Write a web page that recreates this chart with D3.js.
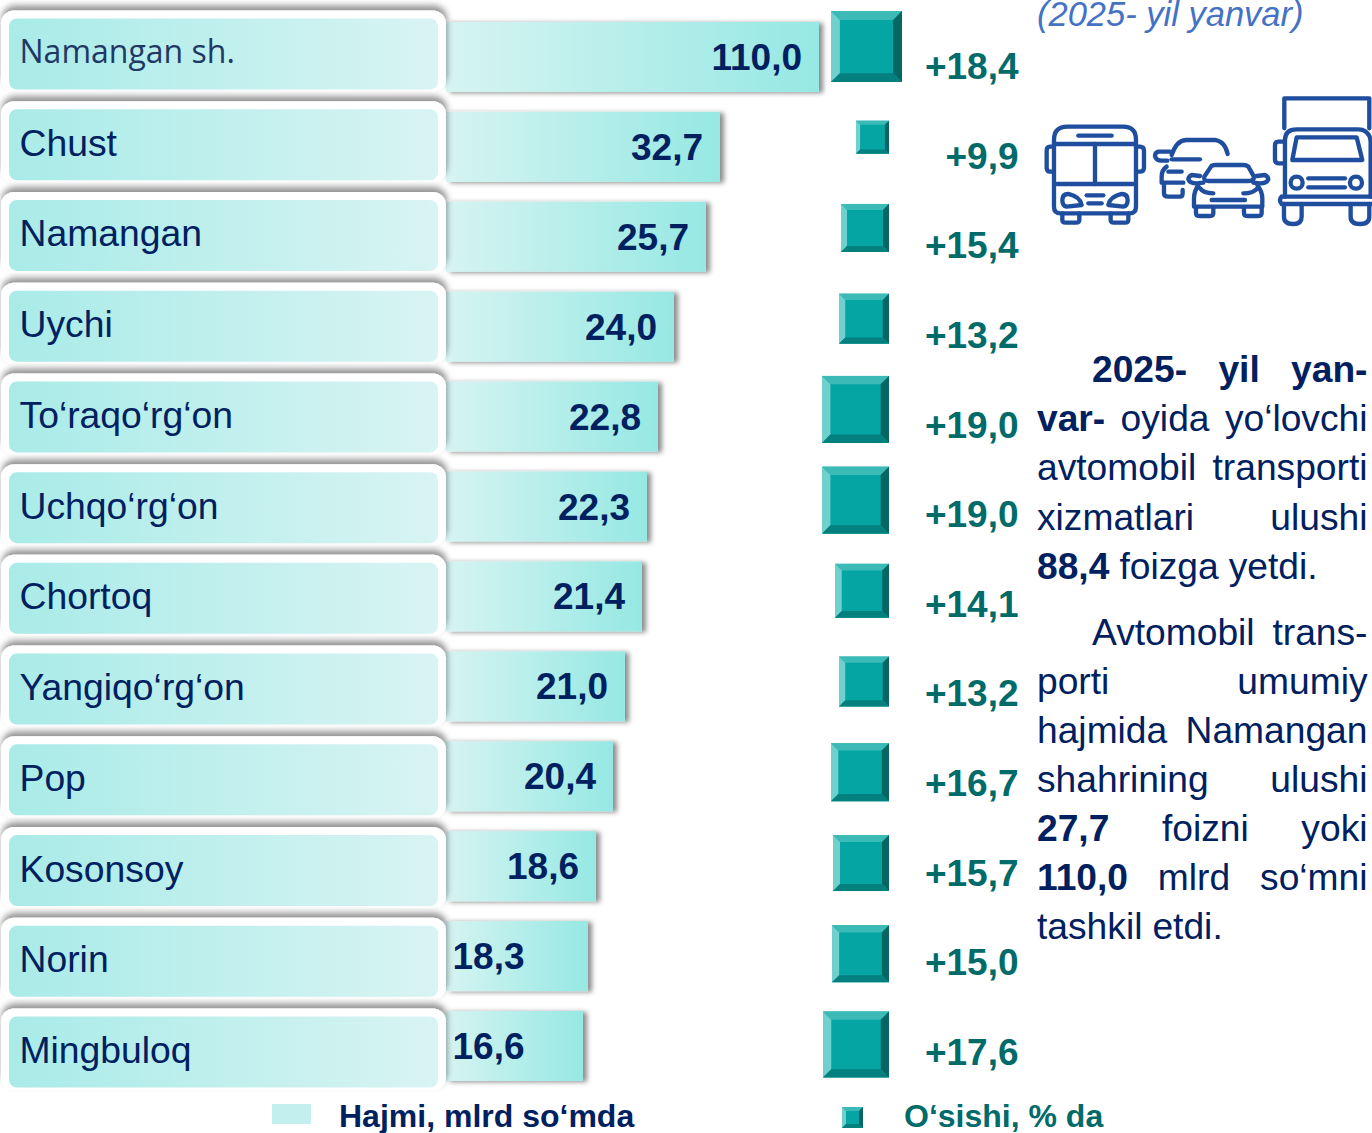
<!DOCTYPE html>
<html>
<head>
<meta charset="utf-8">
<script src="https://cdn.jsdelivr.net/npm/d3@7"></script>
<style>
html, body { margin: 0; padding: 0; background: #fff; }
svg { display: block; font-family: "Liberation Sans", Arial, sans-serif; }
</style>
</head>
<body>
<svg id="chart" width="1372" height="1133"></svg>
<script>
var districts = ['Namangan sh.', 'Chust', 'Namangan', 'Uychi', 'To‘raqo‘rg‘on', 'Uchqo‘rg‘on', 'Chortoq', 'Yangiqo‘rg‘on', 'Pop', 'Kosonsoy', 'Norin', 'Mingbuloq'];
var volume = [110.0, 32.7, 25.7, 24.0, 22.8, 22.3, 21.4, 21.0, 20.4, 18.6, 18.3, 16.6];
var growth = [18.4, 9.9, 15.4, 13.2, 19.0, 19.0, 14.1, 13.2, 16.7, 15.7, 15.0, 17.6];
var legendLabels = ['Hajmi, mlrd so‘mda', 'O‘sishi, % da'];
var titleText = '(2025- yil yanvar)';

var commaFormat = d3.formatLocale({decimal: ',', thousands: ' ', grouping: [3], currency: ['', '']}).format('.1f');

// bars and squares in the picture are not to a straight scale, so the scales are piecewise
var barX = d3.scaleLinear()
    .domain([16.6, 18.3, 18.6, 20.4, 21.0, 21.4, 22.3, 22.8, 24.0, 25.7, 32.7, 110.0])
    .range([583, 588, 596, 613, 625, 642, 647, 658, 674, 706, 720, 819]);
var squareSize = d3.scaleLinear()
    .domain([9.9, 13.2, 14.1, 15.0, 15.4, 15.7, 16.7, 17.6, 18.4, 19.0])
    .range([33, 50, 54, 57, 48, 56, 58, 66, 71, 67]);

var rowY = d3.scalePoint().domain(districts).range([53.5, 1051.5]);
var barY = d3.scalePoint().domain(districts).range([57, 1046]);
var growthY = d3.scalePoint().domain(districts).range([66, 1052]);

var svg = d3.select('#chart');
var defs = svg.append('defs');

function addGradient(id, from, to) {
    var g = defs.append('linearGradient').attr('id', id);
    g.append('stop').attr('offset', '0').attr('stop-color', from);
    g.append('stop').attr('offset', '1').attr('stop-color', to);
}
addGradient('barFill', '#d6f4f2', '#96e8e3');
addGradient('labelFill', '#a9ebe8', '#d8f4f3');

function addShadow(id, dx, dy, blur, opacity) {
    defs.append('filter').attr('id', id)
        .attr('x', '-10%').attr('y', '-30%').attr('width', '120%').attr('height', '160%')
        .append('feDropShadow')
        .attr('dx', dx).attr('dy', dy).attr('stdDeviation', blur)
        .attr('flood-color', '#000').attr('flood-opacity', opacity);
}
addShadow('barShadow', 4, 1, 2.8, 0.45);
addShadow('boxShadow', 1, -5, 3, 0.42);

// bars
var barStart = 446;
var barHeight = 70;
svg.append('g').selectAll('rect')
    .data(districts)
    .join('rect')
    .attr('x', barStart)
    .attr('y', function (d) { return barY(d) - barHeight / 2; })
    .attr('width', function (d, i) { return barX(volume[i]) - barStart; })
    .attr('height', barHeight)
    .attr('fill', 'url(#barFill)')
    .attr('filter', 'url(#barShadow)');

// white framed name boxes sit on top of the bars
var boxes = svg.append('g').selectAll('g')
    .data(districts)
    .join('g');
boxes.append('rect')
    .attr('x', 1).attr('width', 445)
    .attr('y', function (d) { return rowY(d) - 43; })
    .attr('height', 82).attr('rx', 13)
    .attr('fill', '#fff')
    .attr('filter', 'url(#boxShadow)');
boxes.append('rect')
    .attr('x', 9).attr('width', 429)
    .attr('y', function (d) { return rowY(d) - 35; })
    .attr('height', 71).attr('rx', 8)
    .attr('fill', 'url(#labelFill)');
boxes.append('text')
    .attr('x', 19.5)
    .attr('y', function (d, i) { return rowY(d) + (i == 0 ? 9 : 11.5); })
    .attr('font-family', function (d, i) { return i == 0 ? '"Open Sans"' : null; })
    .attr('font-size', function (d, i) { return i == 0 ? 32 : 37.3; })
    .attr('fill', function (d, i) { return i == 0 ? '#1f3864' : '#002060'; })
    .text(function (d) { return d; });

// value labels, the two shortest bars have them at the left
svg.append('g').selectAll('text')
    .data(districts)
    .join('text')
    .attr('x', function (d, i) { return volume[i] < 18.5 ? 452.5 : barX(volume[i]) - 17; })
    .attr('y', function (d) { return barY(d) + 13; })
    .attr('text-anchor', function (d, i) { return volume[i] < 18.5 ? 'start' : 'end'; })
    .attr('font-size', 37).attr('font-weight', 'bold').attr('fill', '#002060')
    .text(function (d, i) { return commaFormat(volume[i]); });

function bevelSquare(g, x, y, s) {
    var b = Math.max(4, s * 0.125);
    var faces = [
        [[x, y], [x + s, y], [x + s - b, y + b], [x + b, y + b], '#3bbab7'],
        [[x, y], [x + b, y + b], [x + b, y + s - b], [x, y + s], '#70d0ce'],
        [[x + s, y], [x + s, y + s], [x + s - b, y + s - b], [x + s - b, y + b], '#066664'],
        [[x, y + s], [x + b, y + s - b], [x + s - b, y + s - b], [x + s, y + s], '#04807e']
    ];
    g.append('rect').attr('x', x).attr('y', y).attr('width', s).attr('height', s).attr('fill', '#05a5a3');
    faces.forEach(function (f) {
        g.append('polygon')
            .attr('points', f.slice(0, 4).map(function (p) { return p.join(','); }).join(' '))
            .attr('fill', f[4]);
    });
}

// squares line up on their right edge but stay clear of a long bar
var squares = svg.append('g');
districts.forEach(function (d, i) {
    var s = squareSize(growth[i]);
    var x = Math.max(barX(volume[i]) + 12, 889 - s);
    bevelSquare(squares, x, rowY(d) - 7 - s / 2, s);
});

svg.append('g').selectAll('text')
    .data(districts)
    .join('text')
    .attr('x', 1018.5)
    .attr('y', function (d) { return growthY(d) + 13; })
    .attr('text-anchor', 'end')
    .attr('font-size', 37).attr('font-weight', 'bold').attr('fill', '#006b68')
    .text(function (d, i) { return '+' + commaFormat(growth[i]); });

// legend
svg.append('rect').attr('x', 272).attr('y', 1104).attr('width', 39).attr('height', 20).attr('fill', '#c2f0ee');
svg.append('text').attr('x', 339).attr('y', 1127)
    .attr('font-size', 32).attr('font-weight', 'bold').attr('fill', '#002060').text(legendLabels[0]);
bevelSquare(svg.append('g'), 842, 1107, 21);
svg.append('text').attr('x', 904).attr('y', 1127)
    .attr('font-size', 32).attr('font-weight', 'bold').attr('fill', '#006b68').text(legendLabels[1]);

// right hand title, it runs against the top edge as in the source
svg.append('text').attr('x', 1037).attr('y', 26)
    .attr('font-size', 34.5).attr('font-style', 'italic').attr('fill', '#4472c4').text(titleText);

// paragraph, bold words are marked with *, justified lines get their gaps computed
var textLines = [
    {y: 382, x: 1092, words: ['*2025-', '*yil', '*yan-'], justify: true},
    {y: 431, words: ['*var-', 'oyida', 'yo‘lovchi'], justify: true},
    {y: 480, words: ['avtomobil', 'transporti'], justify: true},
    {y: 530, words: ['xizmatlari', 'ulushi'], justify: true},
    {y: 579, words: ['*88,4', 'foizga', 'yetdi.']},
    {y: 645, x: 1092, words: ['Avtomobil', 'trans-'], justify: true},
    {y: 694, words: ['porti', 'umumiy'], justify: true},
    {y: 743, words: ['hajmida', 'Namangan'], justify: true},
    {y: 792, words: ['shahrining', 'ulushi'], justify: true},
    {y: 841, words: ['*27,7', 'foizni', 'yoki'], justify: true},
    {y: 890, words: ['*110,0', 'mlrd', 'so‘mni'], justify: true},
    {y: 939, words: ['tashkil', 'etdi.']}
];
var textRight = 1367.5;
var paragraph = svg.append('g').attr('font-size', 37.2).attr('fill', '#002060');
textLines.forEach(function (line) {
    var nodes = line.words.map(function (w) {
        var bold = w.charAt(0) == '*';
        return paragraph.append('text')
            .attr('y', line.y)
            .attr('font-weight', bold ? 'bold' : null)
            .text(bold ? w.slice(1) : w);
    });
    var left = line.x || 1037;
    var total = d3.sum(nodes, function (n) { return n.node().getComputedTextLength(); });
    var gap = line.justify ? (textRight - left - total) / (nodes.length - 1) : 10;
    var x = left;
    nodes.forEach(function (n) {
        n.attr('x', x);
        x += n.node().getComputedTextLength() + gap;
    });
});

// vehicle icons, drawn in 3x units and scaled down
var iconPaths = [
    // bus
    'M72 420 Q72 380 112 380 L280 380 Q318 380 318 420 L318 620 Q318 640 298 640 L92 640 Q72 640 72 620 Z',
    'M72 432 L318 432', 'M145 407 L245 407', 'M195 432 L195 552', 'M80 552 L310 552',
    'M72 440 L60 440 Q50 440 50 452 L50 503 Q50 515 60 515 L72 515',
    'M318 440 L330 440 Q342 440 342 452 L342 503 Q342 515 330 515 L318 515',
    'M97 600 Q97 582 115 582 Q150 590 155 615 L110 620 Q97 618 97 600 Z',
    'M293 600 Q293 582 275 582 Q240 590 235 615 L280 620 Q293 618 293 600 Z',
    'M170 586 L220 586', 'M175 610 L215 610',
    'M97 640 L97 660 Q97 668 107 668 L138 668 Q148 668 148 660 L148 640',
    'M242 640 L242 660 Q242 668 252 668 L285 668 Q295 668 295 660 L295 640',
    // back car
    'M425 465 Q440 420 470 420 L555 420 Q585 425 593 462', 'M425 478 L510 478',
    'M420 455 L385 455 Q375 458 375 468 Q378 482 395 482 L412 482',
    'M410 500 Q395 510 395 530 L395 548 L460 548', 'M415 515 L455 515',
    'M402 550 L402 580 Q402 590 415 590 L450 590 Q458 590 458 580 L458 570',
    // front car
    'M523 530 L545 497 Q550 495 555 495 L640 495 Q650 495 655 500 L672 530 Q672 543 655 543 L535 543 Q520 543 523 530 Z',
    'M510 528 L485 525 Q475 530 475 538 Q480 550 500 550 L520 548',
    'M680 528 L705 525 Q715 530 715 538 Q710 550 690 550 L670 548',
    'M505 555 Q492 575 492 595 L492 620 L697 620 L697 595 Q697 575 682 555',
    'M510 565 Q520 580 550 580', 'M640 580 Q670 580 682 565', 'M545 600 L645 600',
    'M498 622 L498 640 Q498 648 508 648 L540 648 Q550 648 550 640 L550 622',
    'M642 622 L642 640 Q642 648 652 648 L685 648 Q695 648 695 640 L695 622',
    // truck
    'M763 385 L763 295 L1018 295 L1018 385',
    'M765 590 L765 420 Q765 388 800 388 L985 388 Q1015 388 1022 420',
    'M800 412 L980 412 L997 480 L787 480 Z',
    'M835 535 L945 535', 'M835 562 L945 562',
    'M765 425 L745 425 Q735 425 735 437 L735 478 Q735 490 745 490 L765 490',
    'M755 590 L1026 590 M755 612 L1026 612 M755 590 Q745 600 755 612',
    'M762 612 L762 650 Q762 672 790 672 Q815 672 815 650 L815 612',
    'M962 612 L962 650 Q962 672 990 672 Q1018 672 1018 650 L1018 612',
    'M1022 420 L1022 590'
];
var icons = svg.append('g')
    .attr('transform', 'translate(1030,0) scale(0.3333)')
    .attr('fill', 'none').attr('stroke', '#1f4e9e').attr('stroke-width', 13)
    .attr('stroke-linecap', 'round').attr('stroke-linejoin', 'round');
icons.selectAll('path').data(iconPaths).join('path').attr('d', function (d) { return d; });
icons.selectAll('circle').data([800, 978]).join('circle')
    .attr('cx', function (d) { return d; }).attr('cy', 548).attr('r', 18);
</script>
</body>
</html>
